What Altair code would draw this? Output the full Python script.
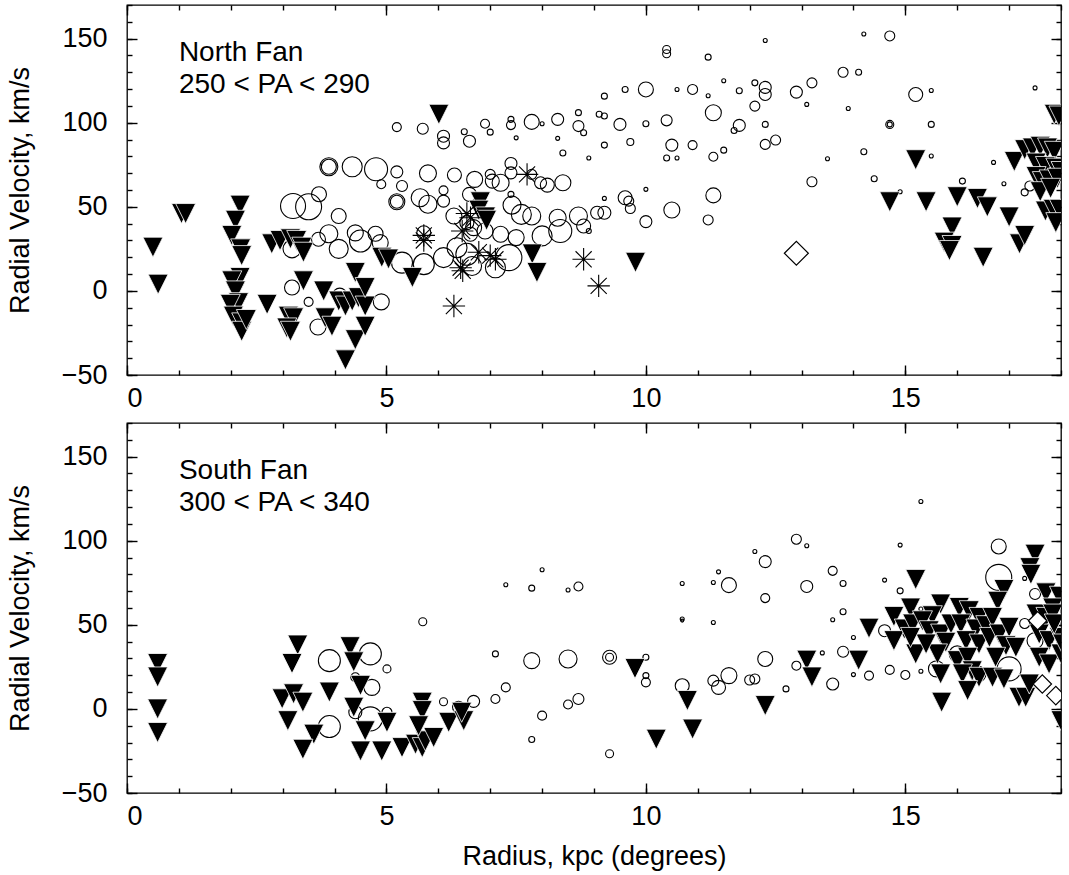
import altair as alt
import pandas as pd

FONT = "Liberation Sans"
XDOM = [0, 18]
YDOM = [-50, 170]

# ---------------- North Fan (top panel) ----------------
top_circle_x = [3.2, 3.5, 3.7, 3.89, 3.89, 4.34, 4.08, 3.89, 3.69, 4.08, 4.4, 4.5, 4.79, 4.88, 3.18, 3.18, 3.5, 3.68, 4.1, 4.9,
                5.3, 5.2, 5.7, 6.1, 6.1, 6.5, 6.6, 6.9, 7.0, 7.4, 7.4, 7.5, 7.8, 8.0, 8.3, 8.3, 8.4, 8.7, 8.7, 8.8,
                8.9, 9.1, 9.2, 9.2, 9.2, 9.5, 9.6, 9.7, 10.0, 10.0, 10.4, 10.4, 10.4, 10.5, 10.4, 10.6, 10.6, 10.9, 10.9,
                4.8, 5.2, 4.9, 5.3, 5.8, 6.31, 6.7, 7.0, 7.04, 7.2, 7.4, 7.4, 7.8, 7.97, 8.1, 8.4,
                5.2, 5.2, 5.65, 5.8, 6.1, 6.1, 6.6, 7.4, 7.42, 7.6, 7.8, 8.3, 8.7, 8.8, 8.9, 9.06, 9.2, 9.2, 9.6, 9.67, 9.7,
                10.0, 10.0, 10.5,
                5.72, 5.72, 6.1, 6.36, 6.55, 6.65, 6.55, 6.62, 6.68, 6.9, 7.2, 7.5, 7.1, 7.36, 8.0, 8.35, 6.3,
                11.2, 11.5, 11.2, 11.3, 11.8, 12.1, 12.3, 12.3, 12.3, 12.1, 11.8, 11.7, 12.3, 12.3, 12.5, 11.5, 11.3,
                11.2, 11.3, 12.9, 13.1, 13.2, 13.2, 13.5, 13.8, 13.9, 14.1, 14.2, 14.2, 14.4, 14.7, 14.7, 14.7, 14.9,
                15.2, 15.5, 15.5, 15.5, 16.1, 16.7, 16.9, 17.3, 17.5, 17.4]
top_circle_y = [50.5, 50, 57.5, 73.8, 73.8, 73.8, 44.5, 34, 30.7, 25, 34.5, 29.7, 34, 28.7, 25, 2, -6.5, -21.5, -2.5, -6.5,
                16.8, 97.4, 96.4, 92, 88, 94.6, 89, 99.4, 94.4, 102, 98.6, 91, 100.5, 99.4, 102, 90.7, 82, 106, 98, 94,
                79, 105, 104, 115.8, 86.7, 99, 119.8, 88.5, 119.8, 99.4, 143.5, 141, 101.4, 86.7, 79, 79, 119.8, 119.8, 86.7,
                72.3, 70.8, 63.4, 62.4, 69.9, 68.9, 66.3, 69.3, 65.3, 64.3, 75.8, 70.2, 69.3, 64.3, 62.9, 64.3,
                53, 53, 55.4, 51.5, 59.8, 53.4, 57.4, 57.4, 51, 45.5, 44.5, 43.5, 44.5, 38.6, 35.6, 46.5, 46.5, 55, 55.4, 53.4, 49,
                60.4, 41.2, 48.1,
                15.9, 34.6, 19.8, 25.7, 21.8, 14.8, 40.6, 33.7, 37.6, 35.6, 33.7, 31.7, 13.8, 19.8, 32.7, 35.6, 44.5,
                139, 125, 116, 105.9, 119, 123.7, 121, 116.8, 148.9, 109.9, 98.4, 95.4, 99, 87.1, 89.7, 83.7, 79.8,
                42.2, 56.8, 118.2, 110.9, 123.7, 64.9, 78.6, 130, 108.5, 130, 152.8, 82.7, 66.7, 151.6, 99, 99, 59,
                116.8, 119.2, 99, 80.2, 65.3, 76.4, 63.7, 58.6, 120.7, 62.4]
top_circle_w = [12.5, 13, 7.5, 9, 7.5, 10, 7.5, 9, 7, 9.5, 8, 11, 7.5, 8, 9, 7.5, 4.5, 8, 7, 8,
                10.5, 4.5, 5.5, 6, 6, 3, 6, 4.5, 3, 3, 4.5, 2, 7.5, 2, 6, 2, 3, 3, 5.5, 3,
                2, 3, 3, 3, 3, 6, 3, 3.5, 7.5, 3, 4, 4, 5.5, 6, 3, 2, 2, 5, 4.5,
                11.5, 6, 4.5, 5.5, 8.5, 7, 8, 5, 7, 8.5, 6, 6, 5, 6, 7, 8,
                8, 6.5, 9, 9, 4.5, 6, 7, 3, 9, 10, 9, 8.5, 9, 7, 2.5, 6.5, 6.5, 2, 7, 5, 5,
                2, 6, 8,
                10.5, 7, 10, 10, 11, 9.5, 7, 7, 8, 8, 8, 8, 10, 13, 10, 11.5, 8,
                3, 2, 2, 8, 3, 3, 6, 6, 2, 5, 6, 3, 3, 5, 5, 3, 4.5,
                5, 7.5, 6, 2, 5, 5, 2, 5, 2, 3, 2, 3, 3, 5, 4, 2.5, 2,
                7, 2, 3, 2, 3, 2, 2, 3.5, 2, 5]

top_tri_x = [0.5, 0.6, 1.05, 1.13, 2.18, 2.09, 2.02, 2.19, 2.21, 2.18, 2.02, 2.09, 2.15, 1.99, 2.05, 2.21, 2.21, 2.3,
             2.7, 2.79, 2.95, 3.15, 3.27, 3.37, 3.4, 3.4, 3.11, 3.21, 3.08, 3.15, 3.79, 3.82, 3.95, 4.08, 4.21, 4.34,
             4.46, 4.59, 4.4, 4.59, 4.4, 4.59, 4.21, 4.91, 5.04, 5.5, 6.01, 6.81, 6.78, 6.91, 6.93, 7.81, 7.9, 9.8,
             14.7, 15.2, 15.4, 16.0, 16.39, 16.58, 17.0, 15.9, 15.75, 15.9, 15.85, 16.5, 17.2, 17.3, 17.1,
             17.87, 17.96, 17.3, 17.45, 17.6, 17.74, 17.87, 17.52, 17.7, 17.9, 18.0, 17.52, 17.64, 17.77, 17.93,
             17.6, 17.8, 17.7, 17.85, 17.97, 17.9]
top_tri_y = [26, 4, 46, 46, 51, 42, 33, 25, 21, 8, 6, 0, -7, -8, -15, -19, -24, -17,
             -8, 28, 30, 31, 30, 26, 23, 6, -15, -16, -22, -24, 0, -16, -21, -6, -9, -6,
             -4, -9, 11, 2, -29, -21, -41, 20, 19, 8, 105, 53, 48, 44, 42, 22, 11, 17,
             53, 78, 53, 56, 55, 50, 44, 38, 29, 27, 24, 20, 28, 33, 77,
             105, 104, 84, 85, 86, 85, 83, 76, 74, 73, 71, 68, 65, 66, 67,
             59, 61, 47.5, 48.5, 48.5, 40.6]

top_ast_x = [5.72, 5.72, 6.46, 6.62, 6.55, 6.78, 6.43, 6.47, 7.1, 7.0, 6.3, 7.71, 8.8, 9.09]
top_ast_y = [33, 30, 35.6, 43.5, 46, 23, 13.8, 12, 18.8, 21, -9, 69.3, 18.8, 3]

top_dia_x = [12.9]
top_dia_y = [22.4]

top_label_x = [1.0, 1.0]
top_label_y = [136.6, 117.8]
top_label_t = ["North Fan", "250 < PA < 290"]

# ---------------- South Fan (bottom panel) ----------------
bot_circle_x = [3.9, 3.9, 4.4, 4.4, 4.69, 5.01, 4.72, 4.69, 5.01, 5.7, 6.1, 6.39, 6.68, 7.1, 7.1, 7.3, 7.3, 7.8, 8.0, 7.8,
                8.0, 7.8, 8.5, 8.7, 8.5, 8.5, 8.7, 9.3, 9.3, 9.3, 10.0, 10.0, 10.0, 10.7, 10.7, 10.7, 10.7, 11.3, 11.4,
                11.6, 11.3, 11.3, 11.4, 11.6, 12.1, 12.3, 12.3, 12.3, 12.0, 12.1, 12.7, 12.9, 13.1, 13.1, 12.9, 13.4,
                13.6, 13.8, 13.6, 13.8, 13.6, 13.8, 14.0, 14.0, 14.3, 14.6, 14.9, 14.9, 14.7, 15.0, 15.3, 15.3, 15.3,
                14.6, 16.8, 16.8, 17.3, 17.5, 17.3, 15.6, 16.0, 16.4, 17.0, 17.5, 17.98]
bot_circle_y = [28.7, -10.5, 18.8, -2, 32.7, 23.8, 12.8, -5.9, -2, 51.8, 4.3, 1, 4.5, 32.7, 5.9, 12.8, 73.8, 71.8, 82.7, 28.7,
                -4, -18.2, 70.7, 72.8, 29.7, 2.6, 5.9, 30.7, 30.7, -26.7, 30.7, 19.8, 15.8, 74.6, 53.5, 52.5, 13.8, 75.2, 81.5,
                73.6, 51.4, 16.8, 12.8, 19.8, 93.6, 87.6, 65.9, 29.7, 17.2, 17.8, 11.9, 100.9, 97, 72.8, 25.7, 33.3,
                82.1, 74.6, 53, 57.8, 14.8, 34, 42.5, 20.4, 19.8, 76.6, 97.4, 70.2, 23.2, 20.2, 123.3, 59.4, 22.4,
                46.5, 96.6, 78.2, 77.6, 68.3, 50.8, 23.8, 32.7, 20.8, 23.8, 40.6, 50.5]
bot_circle_w = [11, 11, 4.5, 6.5, 11, 4, 8, 12, 5, 4, 4, 6, 6, 3, 4.5, 4.5, 2, 3, 2, 8,
                4.5, 3, 2, 4.5, 9, 4.5, 5.5, 7, 4, 4, 3, 3, 4.5, 2, 2, 1.5, 7, 2, 2,
                7.5, 2, 5.5, 7, 8, 2, 6, 4.5, 7.5, 5, 5, 3, 5, 2, 6, 4.5, 2,
                4.5, 3, 2, 3, 6, 5.5, 2, 2, 4.5, 2, 2, 3, 4.5, 4.5, 2, 2, 2,
                6, 7.5, 13, 2, 5.5, 5, 8, 8, 8, 12, 8, 8]

bot_tri_x = [0.59, 0.59, 0.59, 0.59, 3.29, 3.18, 2.99, 3.21, 3.39, 3.9, 3.1, 3.6, 3.39,
             4.3, 4.37, 4.5, 4.37, 4.59, 4.5, 4.91, 5.01, 5.3, 5.56, 5.69, 5.75, 5.69, 5.69, 5.62, 5.91, 6.2, 6.49, 6.45,
             9.79, 10.2, 10.8, 10.9, 12.3, 13.1, 13.2, 14.1, 14.3, 15.2, 17.5, 17.4, 15.7,
             17.42, 16.9, 16.78, 17.71, 17.97, 17.84,
             14.78, 15.1, 14.98, 14.78, 15.14,
             15.68, 15.52, 15.33, 15.46, 15.68, 15.88, 15.78, 15.62, 15.2, 15.4, 15.1,
             16.04, 16.23, 16.42, 16.07, 16.36, 16.55, 16.17, 16.42, 16.62, 16.0, 16.2, 16.29, 16.1, 16.42, 16.2,
             15.68,
             16.68, 16.81, 17.0, 16.94, 17.13, 16.74, 16.68, 16.9, 17.19, 17.32, 17.39,
             17.52, 17.71, 17.84, 17.58, 17.77, 17.97, 17.58, 17.77, 18.0, 18.03, 17.87, 18.0]
bot_tri_y = [27, 19, 0, -14, 38, 27, 6, 9, 4, 10, -7, -15, -24,
             37, 28, 14, 1, -13, -25, -25, -8, -23, -21, -23, -19, 4, -1, -10, -17, -8, -7, -2,
             24, -18, 5, -12, 2, 29, 19, 29, 48, 77, 92, 84, 4,
             80, 71, 64, 69, 67, 60,
             55, 60, 47.5, 40.6, 50.5,
             62.4, 55.4, 52.4, 46.5, 44.5, 50.5, 39.6, 32.7, 32.7, 38.6, 42.5,
             60.3, 58.4, 54.4, 50.5, 47.5, 49.5, 40.6, 38.6, 42.5, 28.7, 30.7, 22.7, 20.8, 18.8, 10.9,
             20.8,
             54.4, 44.5, 48.5, 37.6, 36.6, 30.7, 18.8, 17.8, 6.9, 6.9, 14.8,
             56.4, 54.4, 56.4, 44.5, 40.6, 42.5, 30.7, 26.7, 32.7, 38.6, 50.5, -7]

bot_ast_x = []
bot_ast_y = []

bot_dia_x = [17.55, 17.64, 17.9]
bot_dia_y = [52.4, 14.8, 7.9]

bot_label_x = [1.0, 1.0]
bot_label_y = [136.6, 117.8]
bot_label_t = ["South Fan", "300 < PA < 340"]

TRI_PATH = "M-1,-1L1,-1L0,1Z"
AST_PATH = "M0,-1L0,1M-1,0L1,0M-0.72,-0.72L0.72,0.72M-0.72,0.72L0.72,-0.72"

W, H = 934, 370


def xenc(axis):
    return alt.X("x:Q", scale=alt.Scale(domain=XDOM, nice=False, zero=False), axis=axis)


def yenc(axis):
    return alt.Y("y:Q", scale=alt.Scale(domain=YDOM, nice=False, zero=False), axis=axis)


common = dict(domain=False, grid=False, tickColor="black", tickWidth=1.4,
              labelColor="black", labelFont=FONT, titleFont=FONT, titleColor="black",
              titleFontWeight="normal")


def panel(cx, cy, cw, tx, ty, ax_, ay_, dx, dy, dsize, lx, ly, lt, xtitle):
    circ = pd.DataFrame({"x": cx, "y": cy, "w": cw})
    tri = pd.DataFrame({"x": tx, "y": ty})
    lab = pd.DataFrame({"x": lx, "y": ly, "t": lt})
    dia = pd.DataFrame({"x": dx, "y": dy})

    layers = []
    layers.append(
        alt.Chart(circ).mark_point(shape="circle", filled=False, color="black", strokeWidth=1.1,
                                   opacity=1, clip=True)
        .encode(xenc(None), yenc(None),
                size=alt.Size("w:Q", scale=alt.Scale(type="pow", exponent=2, domain=[0, 13], range=[0, 676]),
                              legend=None))
    )
    layers.append(
        alt.Chart(tri).mark_point(shape=TRI_PATH, filled=True, fill="black", stroke="white",
                                  strokeWidth=0.8, size=400, opacity=1, clip=True)
        .encode(xenc(None), yenc(None))
    )
    if len(ax_):
        ast = pd.DataFrame({"x": ax_, "y": ay_})
        layers.append(
            alt.Chart(ast).mark_point(shape=AST_PATH, filled=False, color="black", strokeWidth=1.1,
                                      size=500, opacity=1, clip=True)
            .encode(xenc(None), yenc(None))
        )
    layers.append(
        alt.Chart(dia).mark_point(shape="diamond", filled=True, fill="white", stroke="black",
                                  strokeWidth=1.2, size=dsize, opacity=1, clip=True)
        .encode(xenc(None), yenc(None))
    )
    layers.append(
        alt.Chart(lab).mark_text(align="left", baseline="alphabetic", fontSize=28, font=FONT, color="black")
        .encode(xenc(None), yenc(None), text="t:N")
    )

    # frame ticks (inward) and labels
    xb_major = dict(orient="bottom", values=[0, 5, 10, 15], tickSize=10, offset=-10, labelFontSize=27,
                    labelPadding=10, **common)
    if xtitle:
        xb_major.update(title=xtitle, titleFontSize=27, titlePadding=14)
    axes_specs = [
        (alt.Axis(**xb_major), alt.Axis(orient="left", values=[-50, 0, 50, 100, 150], tickSize=10, offset=-10,
                                        labelFontSize=27, labelPadding=20, title="Radial Velocity, km/s",
                                        titleFontSize=27, titlePadding=27, **common)),
        (alt.Axis(orient="bottom", values=list(range(0, 19)), tickSize=5, offset=-5, labels=False, **common),
         alt.Axis(orient="left", values=list(range(-50, 171, 10)), tickSize=5, offset=-5, labels=False, **common)),
        (alt.Axis(orient="top", values=[0, 5, 10, 15], tickSize=10, offset=-10, labels=False, **common),
         alt.Axis(orient="right", values=[-50, 0, 50, 100, 150], tickSize=10, offset=-10, labels=False, **common)),
        (alt.Axis(orient="top", values=list(range(0, 19)), tickSize=5, offset=-5, labels=False, **common),
         alt.Axis(orient="right", values=list(range(-50, 171, 10)), tickSize=5, offset=-5, labels=False, **common)),
    ]
    for i, (xa, ya) in enumerate(axes_specs):
        xt = xtitle if (i == 0 and xtitle) else None
        layers.append(
            alt.Chart(circ).mark_point(opacity=0, size=1)
            .encode(alt.X("x:Q", scale=alt.Scale(domain=XDOM, nice=False, zero=False), axis=xa, title=xt),
                    alt.Y("y:Q", scale=alt.Scale(domain=YDOM, nice=False, zero=False), axis=ya,
                          title=("Radial Velocity, km/s" if i == 0 else None)))
        )
    return alt.layer(*layers).resolve_axis(x="independent", y="independent").properties(width=W, height=H)


top = panel(top_circle_x, top_circle_y, top_circle_w, top_tri_x, top_tri_y, top_ast_x, top_ast_y,
            top_dia_x, top_dia_y, 576, top_label_x, top_label_y, top_label_t, None)
bottom = panel(bot_circle_x, bot_circle_y, bot_circle_w, bot_tri_x, bot_tri_y, bot_ast_x, bot_ast_y,
               bot_dia_x, bot_dia_y, 340, bot_label_x, bot_label_y, bot_label_t, "Radius, kpc (degrees)")

chart = alt.vconcat(top, bottom, spacing=48, bounds="flush", padding={"left": 5, "top": 3, "right": 5, "bottom": 5}) \
    .configure_view(stroke="black", strokeWidth=1.3)

chart.save("out.html", embed_options={"renderer": "svg", "actions": False})
